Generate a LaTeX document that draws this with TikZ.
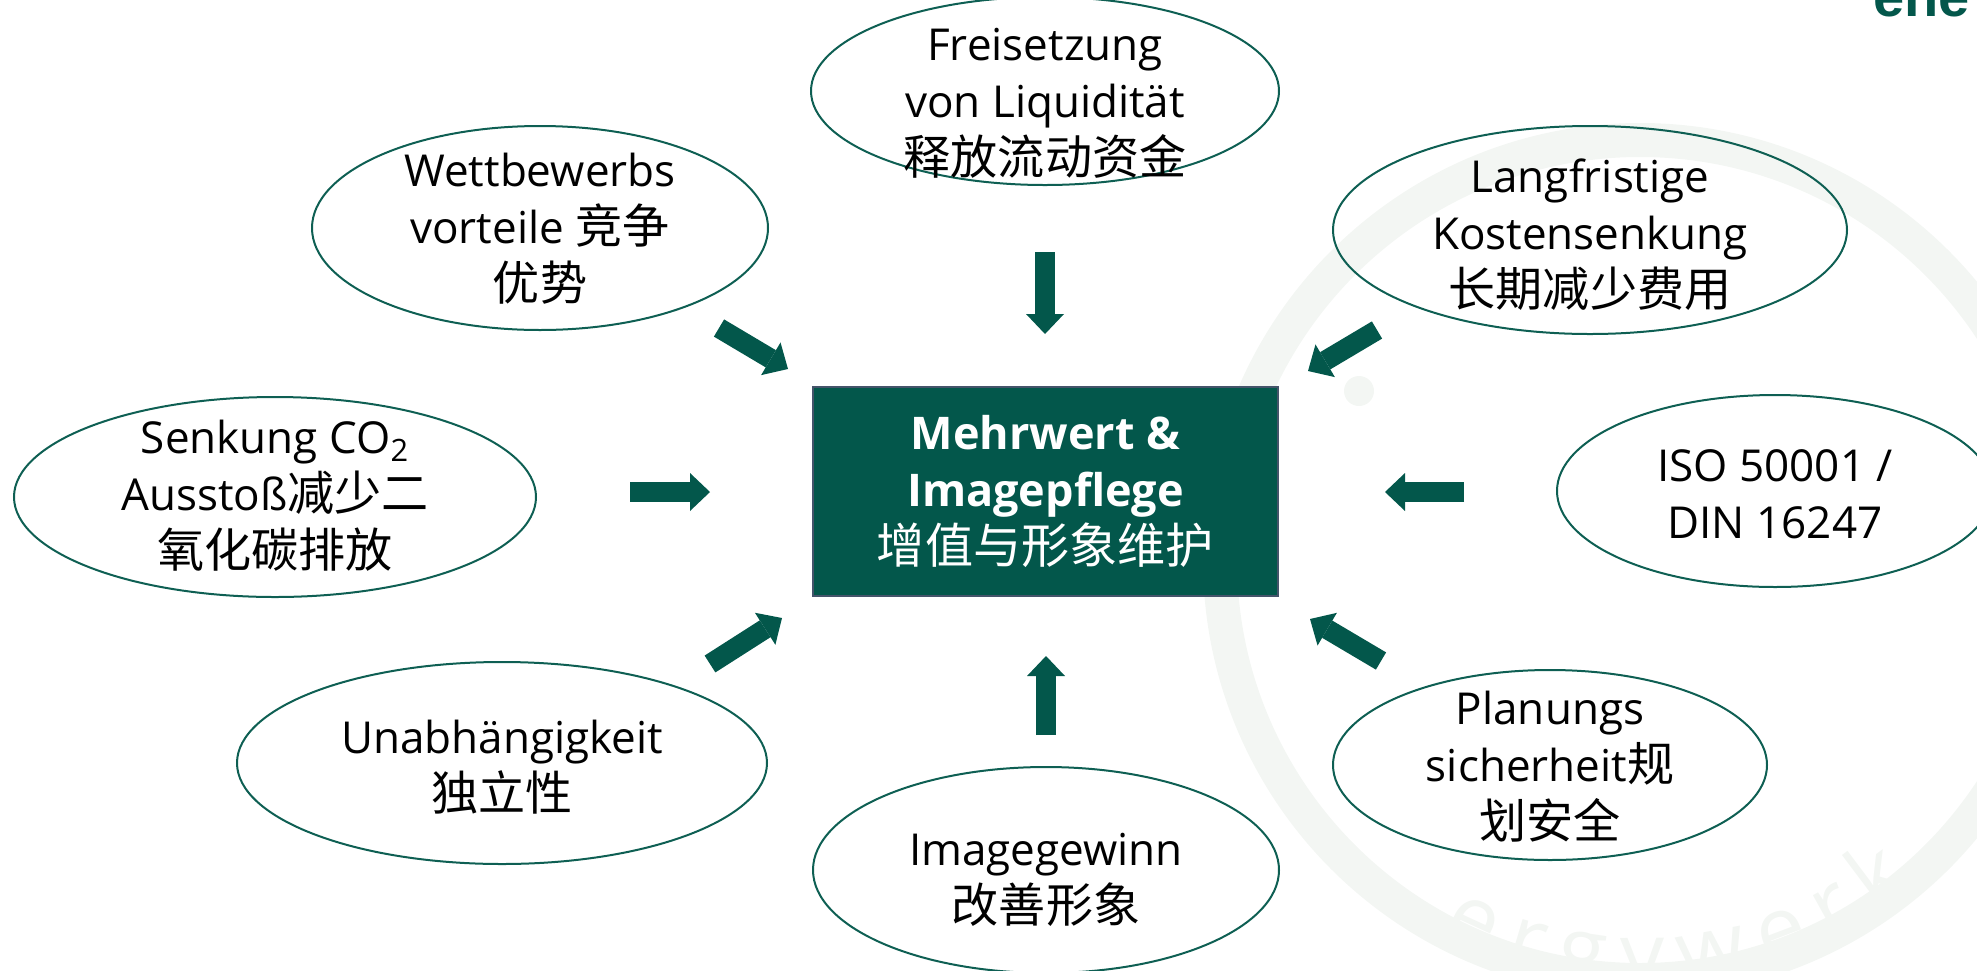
\documentclass[tikz,border=0pt]{standalone}
\usepackage{fontspec}
\setmainfont{Open Sans}
\newfontfamily\cjk[Scale=1.07]{Noto Sans CJK SC}
\newfontfamily\logofont{Liberation Sans}
\usetikzlibrary{shapes.geometric,arrows.meta,decorations.text}
\definecolor{dkgreen}{HTML}{03574B}
\definecolor{lngreen}{HTML}{0E5F53}
\definecolor{boxborder}{HTML}{44546A}
\definecolor{wmark}{HTML}{F3F6F3}
\begin{document}
\begin{tikzpicture}[x=0.5pt,y=-0.5pt,
  bubble/.style={ellipse,draw=lngreen,line width=1pt,inner sep=0pt},
  btext/.style={align=center,font=\fontsize{22}{28.5}\selectfont,text=black,inner sep=0pt},
  centerbox/.style={rectangle,fill=dkgreen,draw=boxborder,line width=0.8pt,inner sep=0pt,
    align=center,text=white,font=\fontsize{22.5}{28.5}\selectfont},
  blockarrow/.style={draw=dkgreen,line width=10pt,
    -{Triangle[length=10pt,width=19pt,line width=0pt]}}]
\useasboundingbox (0,0) rectangle (1977,970);
\clip (0,0) rectangle (1977,970);
% faint watermark
\draw[wmark,line width=17pt] (1640,560) circle[radius=420];
\fill[wmark] (1359,391) circle[radius=15];
\path[decorate,decoration={text along path,text align=fit to path,text color=wmark,
  text={|\fontsize{44}{44}\selectfont|ergywerk}}]
  (1640,560) ++(118:425) arc[start angle=118,end angle=50,radius=425];
% logo fragment
\node[anchor=base west,inner sep=0pt,text=dkgreen,
  font=\logofont\bfseries\fontsize{28}{28}\selectfont] (logo) at (1873,16) {ene};
% center
\node[centerbox,minimum width=232.5pt,minimum height=104.5pt] (center) at (1045.5,491.5)
  {\textbf{Mehrwert \&}\\\textbf{Imagepflege}\\{\cjk 增值与形象维护}};
% ellipses
\node[bubble,minimum width=234pt,minimum height=94pt] (fl) at (1045,91) {};
\node[btext] (fl-t) at (1045,103) {Freisetzung\\von Liquidität\\{\cjk 释放流动资金}};
\node[bubble,minimum width=228pt,minimum height=102pt] (wv) at (540,228) {};
\node[btext] (wv-t) at (540,229) {Wettbewerbs\\vorteile {\cjk 竞争}\\{\cjk 优势}};
\node[bubble,minimum width=257pt,minimum height=104pt] (lk) at (1590,230) {};
\node[btext] (lk-t) at (1590,235) {Langfristige\\Kostensenkung\\{\cjk 长期减少费用}};
\node[bubble,minimum width=218pt,minimum height=96pt] (iso) at (1775,491) {};
\node[btext] (iso-t) at (1775,494) {ISO 50001 /\\DIN 16247};
\node[bubble,minimum width=217pt,minimum height=95pt] (ps) at (1550,765) {};
\node[btext] (ps-t) at (1550,767) {Planungs\\sicherheit{\cjk 规}\\{\cjk 划安全}};
\node[bubble,minimum width=233pt,minimum height=103pt] (ig) at (1046,870) {};
\node[btext] (ig-t) at (1046,880) {Imagegewinn\\{\cjk 改善形象}};
\node[bubble,minimum width=265pt,minimum height=101pt] (ua) at (502,763) {};
\node[btext] (ua-t) at (502,767) {Unabhängigkeit\\{\cjk 独立性}};
\node[bubble,minimum width=261pt,minimum height=100pt] (sk) at (275,497) {};
\node[btext] (sk-t) at (275,496) {Senkung CO\textsubscript{2}\\Ausstoß{\cjk 减少二}\\{\cjk 氧化碳排放}};
% arrow end points
\coordinate (a1s) at (1045,252); \coordinate (a1e) at (1045,334);
\coordinate (a2s) at (1046,735); \coordinate (a2e) at (1046,656);
\coordinate (a3s) at (630,492);  \coordinate (a3e) at (710,492);
\coordinate (a4s) at (1464,492); \coordinate (a4e) at (1385,492);
\coordinate (a5s) at (719,328);  \coordinate (a5e) at (788,369);
\coordinate (a6s) at (1377,330); \coordinate (a6e) at (1308,371);
\coordinate (a7s) at (710,664);  \coordinate (a7e) at (782,618);
\coordinate (a8s) at (1381,661); \coordinate (a8e) at (1310,619);
\foreach \i in {1,...,8} {\draw[blockarrow] (a\i s) -- (a\i e);}
\end{tikzpicture}
\end{document}
